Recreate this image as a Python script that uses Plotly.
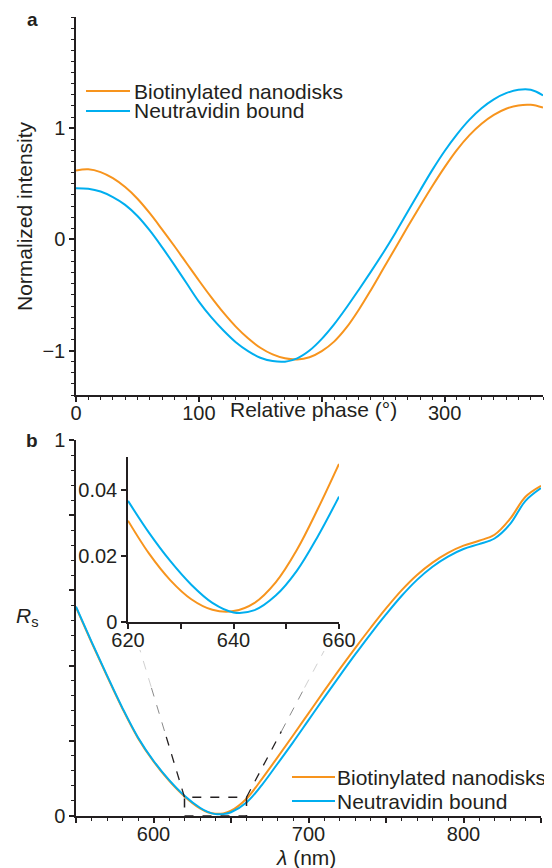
import plotly.graph_objects as go

# ---------------- data ----------------
# panel a: relative phase (deg) vs normalized intensity
phase = [0, 10, 20, 30, 40, 50, 60, 70, 80, 90, 100, 110, 120, 130, 140, 150, 160, 170, 180,
         190, 200, 210, 220, 230, 240, 250, 260, 270, 280, 290, 300, 310, 320, 330, 340, 350,
         360, 370, 380]
intensity_biotin = [0.62, 0.63, 0.605, 0.55, 0.47, 0.365, 0.235, 0.09, -0.06, -0.215, -0.37,
                    -0.52, -0.66, -0.785, -0.89, -0.975, -1.035, -1.07, -1.08, -1.06, -1.005,
                    -0.92, -0.795, -0.635, -0.455, -0.265, -0.075, 0.115, 0.30, 0.48, 0.65,
                    0.805, 0.935, 1.04, 1.12, 1.175, 1.205, 1.21, 1.185]
intensity_neutra = [0.46, 0.455, 0.43, 0.38, 0.31, 0.21, 0.08, -0.07, -0.23, -0.395, -0.56,
                    -0.70, -0.82, -0.925, -1.005, -1.065, -1.095, -1.10, -1.07, -1.0, -0.895,
                    -0.765, -0.615, -0.455, -0.29, -0.12, 0.06, 0.25, 0.44, 0.625, 0.795,
                    0.945, 1.075, 1.18, 1.26, 1.315, 1.345, 1.345, 1.295]

# panel b: wavelength (nm) vs Rs
wavelength = [550, 560, 570, 580, 590, 600, 610, 620, 630, 635, 640, 645, 650, 660, 670, 680,
              690, 700, 710, 720, 730, 740, 750, 760, 770, 780, 790, 800, 810, 820, 830, 840, 850]
rs_biotin = [0.555, 0.462, 0.372, 0.285, 0.207, 0.145, 0.094, 0.052, 0.020, 0.010, 0.006, 0.007,
             0.014, 0.046, 0.099, 0.156, 0.214, 0.273, 0.332, 0.390, 0.446, 0.500, 0.552, 0.600,
             0.641, 0.674, 0.700, 0.719, 0.732, 0.748, 0.790, 0.849, 0.878]
rs_neutra = [0.557, 0.464, 0.374, 0.287, 0.209, 0.147, 0.096, 0.054, 0.022, 0.011, 0.005, 0.005,
             0.010, 0.036, 0.083, 0.139, 0.196, 0.255, 0.314, 0.372, 0.429, 0.484, 0.536, 0.585,
             0.628, 0.663, 0.690, 0.710, 0.723, 0.738, 0.776, 0.838, 0.872]

# inset: zoom on the minimum
inset_wavelength = [620, 624, 628, 632, 636, 640, 644, 648, 652, 656, 660]
inset_biotin = [0.0307, 0.0207, 0.0127, 0.0069, 0.0037, 0.0033, 0.0058, 0.0120, 0.0218, 0.0343, 0.0479]
inset_neutra = [0.0367, 0.0270, 0.0185, 0.0113, 0.0058, 0.0029, 0.0036, 0.0080, 0.0155, 0.0260, 0.0380]

series_names = ["Biotinylated nanodisks", "Neutravidin bound"]

# ---------------- style ----------------
PAGE_W, PAGE_H = 552, 868
OFF = 8                      # default body margin of the html page
W, H = PAGE_W - OFF, PAGE_H - OFF
ORANGE = "#F7941D"
BLUE = "#00AEEF"
INK = "#231F20"
FONT = "Liberation Sans, Arial, sans-serif"


def px(x):
    """page pixel x -> paper fraction"""
    return (x - OFF) / W


def py(y):
    """page pixel y -> paper fraction"""
    return 1 - (y - OFF) / H


# axis boxes in page pixels: (left, right, top, bottom)
A_BOX = (76, 543, 17, 395)
B_BOX = (76, 541, 440, 816)
I_BOX = (128, 339, 457, 622)
A_XR, A_YR = [0, 380], [-1.4, 2.0]
B_XR, B_YR = [550, 850], [0, 1]
I_XR, I_YR = [620, 660], [0, 0.05]

fig = go.Figure()
line_w = 2
for xs, ys, name, col, ax in [
    (phase, intensity_biotin, series_names[0], ORANGE, ("x", "y")),
    (phase, intensity_neutra, series_names[1], BLUE, ("x", "y")),
    (wavelength, rs_biotin, series_names[0], ORANGE, ("x2", "y2")),
    (wavelength, rs_neutra, series_names[1], BLUE, ("x2", "y2")),
    (inset_wavelength, inset_biotin, series_names[0], ORANGE, ("x3", "y3")),
    (inset_wavelength, inset_neutra, series_names[1], BLUE, ("x3", "y3")),
]:
    fig.add_trace(go.Scatter(x=xs, y=ys, mode="lines", name=name,
                             line=dict(color=col, width=line_w, shape="spline", smoothing=1.0),
                             xaxis=ax[0], yaxis=ax[1], showlegend=False, hoverinfo="skip"))

base_axis = dict(showline=True, linecolor=INK, linewidth=1.5, ticks="outside", ticklen=5,
                 tickwidth=1.5, tickcolor=INK, showgrid=False, zeroline=False, automargin=False,
                 tickfont=dict(family=FONT, size=20, color=INK), fixedrange=True)
x_axis = dict(base_axis, ticklabelstandoff=-6)


def minor(d):
    return dict(dtick=d, tick0=0, ticks="outside", ticklen=3, tickwidth=1.2, tickcolor=INK,
                showgrid=False)


fig.update_layout(
    width=W, height=H, autosize=False,
    margin=dict(l=0, r=0, t=0, b=0, pad=0),
    paper_bgcolor="white", plot_bgcolor="rgba(0,0,0,0)",
    font=dict(family=FONT, color=INK, size=20),
    xaxis=dict(x_axis, domain=[px(A_BOX[0]), px(A_BOX[1])], range=A_XR, anchor="y",
               tickvals=[0, 100, 200, 300], ticktext=["0", "100", " ", "300"],
               minor=minor(10)),
    yaxis=dict(base_axis, domain=[py(A_BOX[3]), py(A_BOX[2])], range=A_YR, anchor="x",
               tickvals=[-1, 0, 1], ticktext=["\u22121", "0", "1"], minor=minor(0.1)),
    xaxis2=dict(x_axis, domain=[px(B_BOX[0]), px(B_BOX[1])], range=B_XR, anchor="y2",
                tickvals=[550, 600, 650, 700, 750, 800, 850],
                ticktext=[" ", "600", " ", "700", " ", "800", " "], minor=minor(10)),
    yaxis2=dict(base_axis, domain=[py(B_BOX[3]), py(B_BOX[2])], range=B_YR, anchor="x2",
                tickvals=[0, 0.2, 0.4, 0.6, 0.8, 1.0], ticktext=["0", " ", " ", " ", " ", "1"],
                minor=minor(0.04)),
    xaxis3=dict(x_axis, domain=[px(I_BOX[0]), px(I_BOX[1])], range=I_XR, anchor="y3",
                tickvals=[620, 630, 640, 650, 660], ticktext=["620", " ", "640", " ", "660"]),
    yaxis3=dict(base_axis, domain=[py(I_BOX[3]), py(I_BOX[2])], range=I_YR, anchor="x3",
                tickvals=[0, 0.02, 0.04], ticktext=["0", "0.02", "0.04"]),
)


def ann(x, y, text, size=21, xanchor="center", rot=0, bold=False):
    fig.add_annotation(x=px(x), y=py(y), xref="paper", yref="paper", text=text,
                       showarrow=False, xanchor=xanchor, yanchor="middle", textangle=rot,
                       font=dict(family=FONT, size=size, color=INK,
                                 weight="bold" if bold else "normal"))


ann(32, 19, "a", size=19, bold=True)
ann(32, 441, "b", size=19, bold=True)
ann(25, 216, "Normalized intensity", rot=-90)
ann(313, 409, "Relative phase (°)")
ann(27, 617, "<i>R</i><sub>s</sub>")
ann(306, 857, "<i>λ</i> (nm)")

# legends (drawn as line samples + text)
for (x0, x1, ys, tx) in [(86, 130, (91, 111), 132), (292, 335, (777, 801), 335)]:
    for name, col, yy in zip(series_names, [ORANGE, BLUE], ys):
        fig.add_shape(type="line", xref="paper", yref="paper", x0=px(x0), x1=px(x1),
                      y0=py(yy), y1=py(yy), line=dict(color=col, width=2))
        ann(tx, yy, name, xanchor="left")

# zoom box on main panel b
fig.add_shape(type="rect", xref="x2", yref="y2", x0=I_XR[0], x1=I_XR[1], y0=I_YR[0], y1=I_YR[1],
              line=dict(color=INK, width=1.5, dash="dash"))


def b_to_px(xv, yv):
    l, r, t, b = B_BOX
    X = l + (xv - B_XR[0]) / (B_XR[1] - B_XR[0]) * (r - l)
    Y = b - (yv - B_YR[0]) / (B_YR[1] - B_YR[0]) * (b - t)
    return X, Y


# connector lines, fading towards the inset
for xv, end in [(I_XR[0], (140, 650)), (I_XR[1], (324, 651))]:
    sx, sy = b_to_px(xv, I_YR[1])
    ex, ey = end
    segs = [(0.0, 0.45, INK), (0.45, 0.75, "#8a8a8a"), (0.75, 1.0, "#d0d0d0")]
    for f0, f1, col in segs:
        fig.add_shape(type="line", xref="paper", yref="paper",
                      x0=px(sx + (ex - sx) * f0), y0=py(sy + (ey - sy) * f0),
                      x1=px(sx + (ex - sx) * f1), y1=py(sy + (ey - sy) * f1),
                      line=dict(color=col, width=1.3 if col == INK else 1, dash="dash"))

fig.write_html("out.html")
